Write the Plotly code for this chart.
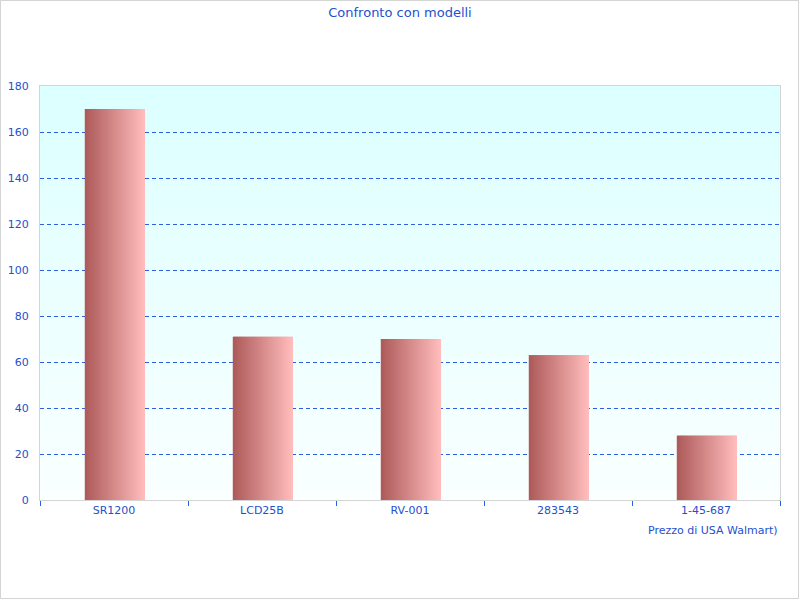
import plotly.graph_objects as go

categories = ["SR1200", "LCD25B", "RV-001", "283543", "1-45-687"]
prices = [170, 71, 70, 63, 28]
y_ticks = [0, 20, 40, 60, 80, 100, 120, 140, 160, 180]

title_text = "Confronto con modelli"
x_title = "Prezzo di USA Walmart)"

BLUE = "#1f50cc"
FONT = "DejaVu Sans"

def lerp(c1, c2, t):
    return "rgb(%d,%d,%d)" % tuple(round(a + (b - a) * t) for a, b in zip(c1, c2))

fig = go.Figure()

# bars with horizontal gradient built from thin slices
bar_w = 0.405
n = 40
left_c = (174, 90, 90)
right_c = (255, 188, 188)
for k in range(n):
    t = k / (n - 1)
    fig.add_trace(go.Bar(
        x=categories, y=prices,
        width=bar_w / n * 1.6 if k < n - 1 else bar_w / n,
        offset=-bar_w / 2 + 0.005 + k * bar_w / n,
        marker=dict(color=lerp(left_c, right_c, t), line=dict(width=0)),
        hoverinfo="y", showlegend=False,
    ))

# background gradient of plot area
m = 60
top_c = (220, 255, 255)
bot_c = (250, 255, 255)
shapes = []
for k in range(m):
    t = k / m
    shapes.append(dict(type="rect", xref="x domain", yref="y domain",
                       x0=0, x1=1, y0=1 - (k + 1) / m, y1=1 - k / m + 0.002,
                       fillcolor=lerp(top_c, bot_c, t), line=dict(width=0),
                       layer="below"))

W, H = 800, 600
ml, mr, mt, mb = 40, 20, 86, 100
pw, ph = W - ml - mr, H - mt - mb
shapes.append(dict(type="rect", xref="paper", yref="paper",
                   x0=-(ml - 0.5) / pw, x1=1 + (mr - 1.5) / pw,
                   y0=-(mb - 1.5) / ph, y1=1 + (mt - 0.5) / ph,
                   line=dict(color="#d4d4d4", width=1), fillcolor="rgba(0,0,0,0)",
                   layer="above"))

fig.update_layout(
    width=W, height=H,
    margin=dict(l=ml, r=mr, t=mt, b=mb, autoexpand=False),
    paper_bgcolor="white", plot_bgcolor="rgba(0,0,0,0)",
    barmode="overlay",
    title=dict(text=title_text, x=0.5, xref="container", xanchor="center",
               y=1 - 12 / H, yanchor="middle",
               font=dict(family=FONT, size=13, color=BLUE)),
    font=dict(family=FONT, size=11, color=BLUE),
    shapes=shapes,
    xaxis=dict(type="category", tickson="boundaries", ticks="outside", ticklen=5,
               tickcolor="#2266dd", showgrid=False, showline=True, linecolor="#d4d4d4",
               mirror=True, automargin=False,
               tickfont=dict(family=FONT, size=11, color=BLUE)),
    yaxis=dict(range=[0, 180], tickvals=y_ticks, showgrid=True, gridcolor="#2a5fdd",
               griddash="4px,3px", gridwidth=1, showline=True, linecolor="#d4d4d4",
               mirror=True, zeroline=False, ticks="", ticklabelstandoff=8,
               automargin=False,
               tickfont=dict(family=FONT, size=11, color=BLUE)),
    annotations=[dict(text=x_title, xref="paper", yref="paper", x=1, y=-30 / ph,
                      xanchor="right", yanchor="middle", showarrow=False,
                      font=dict(family=FONT, size=11, color=BLUE))],
)

fig.write_html("out.html")
